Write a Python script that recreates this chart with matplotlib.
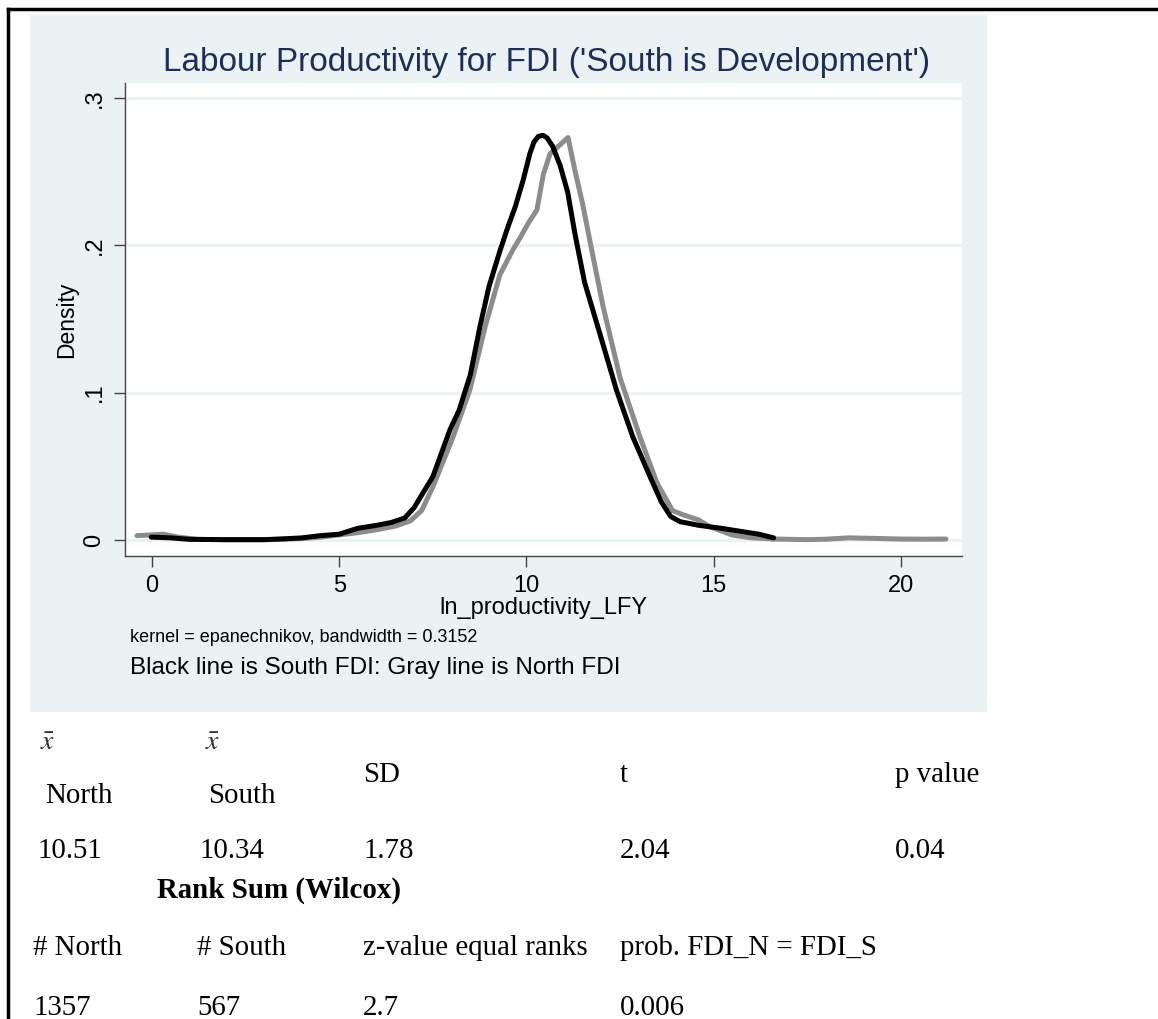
import numpy as np
import matplotlib
matplotlib.use("Agg")
import matplotlib.pyplot as plt
from matplotlib.patches import Rectangle
from matplotlib.lines import Line2D

# density curves
south_x = [-0.02, 0.5, 1.0, 2.0, 3.0, 3.5, 4.0, 4.5, 5.0, 5.5, 6.0, 6.4, 6.75, 7.0, 7.5,
           7.96, 8.2, 8.5, 8.76, 9.0, 9.29, 9.5, 9.7, 9.91, 10.09, 10.2, 10.32, 10.44, 10.55,
           10.7, 10.9, 11.1, 11.3, 11.55, 11.96, 12.4, 12.84, 13.3, 13.6, 13.85, 14.1, 14.6,
           15.2, 15.7, 16.2, 16.6]
south_y = [0.002, 0.0015, 0.0005, 0.0003, 0.0003, 0.0008, 0.0015, 0.003, 0.004, 0.008,
           0.010, 0.012, 0.015, 0.022, 0.043, 0.075, 0.088, 0.112, 0.145, 0.172, 0.196,
           0.212, 0.226, 0.244, 0.262, 0.270, 0.2738, 0.2745, 0.2728, 0.267, 0.254, 0.236,
           0.207, 0.175, 0.14, 0.102, 0.07, 0.043, 0.026, 0.016, 0.0125, 0.010, 0.008, 0.006,
           0.004, 0.0015]

north_x = [-0.4, 0.0, 0.3, 0.7, 1.2, 2.0, 3.0, 4.0, 4.5, 5.0, 5.5, 6.0, 6.5, 6.9, 7.2, 7.5,
           8.04, 8.49, 8.9, 9.29, 9.64, 9.83, 10.05, 10.28, 10.45, 10.63, 11.11, 11.3, 11.5,
           11.74, 12.05, 12.5, 13.03, 13.48, 13.9, 14.2, 14.6, 14.9, 15.5, 16.0, 16.6, 17.5,
           18.0, 18.6, 19.2, 20.0, 20.6, 21.2]
north_y = [0.003, 0.0035, 0.004, 0.002, 0.0005, 0.0002, 0.0002, 0.001, 0.002, 0.0035,
           0.005, 0.007, 0.0095, 0.013, 0.02, 0.036, 0.07, 0.102, 0.145, 0.18, 0.197, 0.205,
           0.215, 0.224, 0.248, 0.262, 0.273, 0.25, 0.228, 0.197, 0.158, 0.11, 0.07, 0.039,
           0.02, 0.017, 0.0136, 0.009, 0.0034, 0.0015, 0.0007, 0.0003, 0.0006, 0.0015,
           0.0012, 0.0007, 0.0006, 0.0007]

x_ticks = [0, 5, 10, 15, 20]
y_ticks = [0, 0.1, 0.2, 0.3]
y_tick_labels = ["0", ".1", ".2", ".3"]

# table under the chart
head_row = ["North", "South", "SD", "t", "p value"]
mean_row = ["10.51", "10.34", "1.78", "2.04", "0.04"]
rank_head = ["# North", "# South", "z-value equal ranks", "prob. FDI_N = FDI_S"]
rank_row = ["1357", "567", "2.7", "0.006"]

W, H = 1158, 1019
fig = plt.figure(figsize=(W / 100, H / 100), dpi=100)
fig.patch.set_facecolor("white")

def fx(px):
    return px / W

def fy(py):
    return 1 - py / H

BG = "#EAF2F3"

# stata style grey panel
fig.patches.append(Rectangle((fx(30), fy(712)), fx(987) - fx(30), fy(15) - fy(712),
                             transform=fig.transFigure, facecolor=BG, edgecolor="none", zorder=-10))

# page border (top and left only)
fig.lines.append(Line2D([fx(8), 1.0], [fy(9), fy(9)], transform=fig.transFigure, color="black", lw=2.5))
fig.lines.append(Line2D([fx(8), fx(8)], [fy(9), 0.0], transform=fig.transFigure, color="black", lw=2.5))

ax = fig.add_axes([fx(125), fy(556), fx(962) - fx(125), fy(83) - fy(556)])
ax.set_zorder(5)
ax.set_facecolor("white")

ax.plot(north_x, north_y, color="#8C8C8C", lw=3.6, solid_capstyle="round",
        solid_joinstyle="round", zorder=3)
ax.plot(south_x, south_y, color="black", lw=3.6, solid_capstyle="round",
        solid_joinstyle="round", zorder=4)

ax.set_xlim(-0.72, 21.63)
ax.set_ylim(-0.0108, 0.31)
ax.set_xticks(x_ticks)
ax.set_yticks(y_ticks)
ax.set_yticklabels(y_tick_labels, rotation=90, va="center")
for sp in ["top", "right"]:
    ax.spines[sp].set_visible(False)
for sp in ["left", "bottom"]:
    ax.spines[sp].set_color("#444444")
    ax.spines[sp].set_linewidth(1.0)
ax.tick_params(direction="out", length=8, width=1, color="#444444",
               labelsize=17, labelfontfamily="Liberation Sans", pad=6)
ax.grid(axis="y", color=BG, lw=2)
ax.set_axisbelow(True)

ax.set_ylabel("Density", fontsize=16.5, family="Liberation Sans", labelpad=4)
ax.set_xlabel("ln_productivity_LFY", fontsize=17, family="Liberation Sans", labelpad=0)

fig.text(fx(547), fy(62), "Labour Productivity for FDI ('South is Development')",
         ha="center", va="center", fontsize=24, family="Liberation Sans", color="#1E2D5A")
fig.text(fx(130), fy(638), "kernel = epanechnikov, bandwidth = 0.3152",
         ha="left", va="center", fontsize=13, family="Liberation Sans")
fig.text(fx(130), fy(668), "Black line is South FDI: Gray line is North FDI",
         ha="left", va="center", fontsize=17.5, family="Liberation Sans")

serif = "Liberation Serif"
ts = 20.8
for px in [40, 205]:
    fig.text(fx(px), fy(742), r"$\bar{x}$", ha="left", va="center", fontsize=20,
             color="#333333", math_fontfamily="stix")

head_x = [45, 208, 363, 620, 895]
head_y = [803, 803, 782, 782, 782]
for lab, px, py in zip(head_row, head_x, head_y):
    fig.text(fx(px), fy(py), lab, ha="left", va="baseline", fontsize=ts, family=serif)

val_x = [37, 200, 363, 620, 895]
for lab, px in zip(mean_row, val_x):
    fig.text(fx(px), fy(858), lab, ha="left", va="baseline", fontsize=ts, family=serif)

fig.text(fx(157), fy(898), "Rank Sum (Wilcox)", ha="left", va="baseline", fontsize=ts,
         family=serif, weight="bold")

rank_x = [33, 197, 363, 620]
for lab, px in zip(rank_head, rank_x):
    fig.text(fx(px), fy(955), lab, ha="left", va="baseline", fontsize=ts, family=serif)
for lab, px in zip(rank_row, rank_x):
    fig.text(fx(px), fy(1015), lab, ha="left", va="baseline", fontsize=ts, family=serif)

fig.savefig("out.png", dpi=100)
